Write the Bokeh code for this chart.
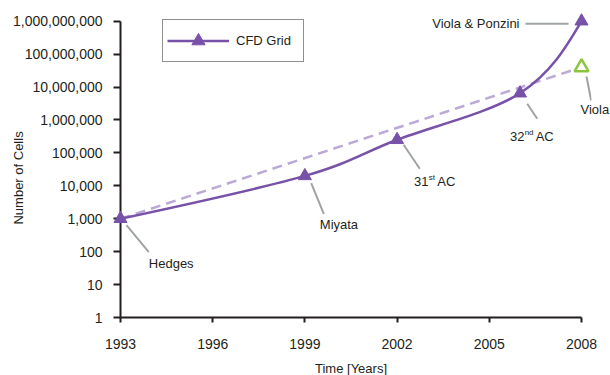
import math
from bokeh.plotting import figure
from bokeh.models import (Range1d, FixedTicker, NumeralTickFormatter,
                          Legend, LegendItem)
from bokeh.core.properties import value
from bokeh.embed import file_html
from bokeh.resources import INLINE

# ---------------- data ----------------
years = [1993, 1999, 2002, 2006, 2008]
cells = [1_000, 20_000, 250_000, 6_500_000, 1_000_000_000]
point_names = ["Hedges", "Miyata", "31st AC", "32nd AC", "Viola & Ponzini"]
viola_year = [2008]
viola_cells = [40_000_000]
viola_name = "Viola"
series_name = "CFD Grid"
x_ticks = [1993, 1996, 1999, 2002, 2005, 2008]
y_ticks = [1, 10, 100, 1_000, 10_000, 100_000, 1_000_000,
           10_000_000, 100_000_000, 1_000_000_000]
x_title = "Time [Years]"
y_title = "Number of Cells"

# ---------------- style / layout ----------------
PURPLE = "#7851a9"
LAVENDER = "#bba9d7"
GREEN = "#8cc63f"
LEADER = "#9fa3a3"
INK = "#231f20"
FONT = "Liberation Sans"

W, H = 610, 375
BL, BR, BT, BB = 120, 19, 10, 58
FW = W - BL - BR
FH = H - BT - BB
X_HI_PAD, Y_HI_PAD = 10, 10.7

px_per_year = (FW - X_HI_PAD) / (x_ticks[-1] - x_ticks[0])
x_start = x_ticks[0]
x_end = x_ticks[-1] + X_HI_PAD / px_per_year
decades = math.log10(y_ticks[-1] / y_ticks[0])
px_per_dec = (FH - Y_HI_PAD) / decades
y_start = y_ticks[0]
y_end = y_ticks[-1] * 10 ** (Y_HI_PAD / px_per_dec)

p = figure(width=W, height=H, output_backend="svg", toolbar_location=None,
           y_axis_type="log",
           x_range=Range1d(x_start, x_end), y_range=Range1d(y_start, y_end),
           min_border_left=BL, min_border_right=BR,
           min_border_top=BT, min_border_bottom=BB)
p.outline_line_color = None
p.grid.visible = False
p.background_fill_color = "white"
p.border_fill_color = "white"

# axes
xa = p.xaxis[0]
xa.ticker = FixedTicker(ticks=x_ticks)
xa.formatter = NumeralTickFormatter(format="0")
xa.bounds = (x_ticks[0], x_ticks[-1])
xa.major_tick_out = 5
xa.major_tick_in = 0
xa.minor_tick_line_color = None
xa.major_label_standoff = 16

ya = p.yaxis[0]
ya.ticker = FixedTicker(ticks=y_ticks)
ya.formatter = NumeralTickFormatter(format="0,0")
ya.bounds = (y_ticks[0], y_ticks[-1])
ya.major_tick_out = 7
ya.major_tick_in = 0
ya.minor_tick_line_color = None
ya.major_label_standoff = 11

for ax in (xa, ya):
    ax.axis_line_color = INK
    ax.axis_line_width = 2
    ax.major_tick_line_color = INK
    ax.major_tick_line_width = 2
    ax.major_label_text_font = FONT
    ax.major_label_text_font_size = "14px"
    ax.major_label_text_color = INK

# ---------------- dashed trend (Hedges -> Viola) ----------------
trend_x = [years[0], viola_year[0]]
trend_y = [cells[0], viola_cells[0]]
p.line(trend_x, trend_y, line_color=LAVENDER, line_width=2.5, line_dash="10 6")


def put_text(x, y, text, dx=0, dy=0, size=13, align="left", angle=0.0):
    """text glyph at a data point, offset by (dx right, dy down) pixels"""
    p.text(x=[x], y=[y], text=[text], x_offset=dx, y_offset=dy, angle=angle,
           text_font=value(FONT), text_font_size=value(f"{size}px"),
           text_color=INK, text_align=value(align),
           text_baseline=value("middle"), level="overlay")


# ---------------- leaders & labels ----------------
def shift(x, y, dx, dy):
    """pixel offset (dx right, dy down) from a data point -> data coords"""
    return x + dx / px_per_year, y * 10 ** (-dy / px_per_dec)

leader_px = {
    "Hedges": ((6, 6.5), (28.3, 33.5)),
    "Miyata": ((6.3, 7.3), (18.9, 37.9)),
    "31st AC": ((6.5, 5), (22.7, 29)),
    "32nd AC": ((7.2, 10.6), (17.2, 25.6)),
    "Viola & Ponzini": ((-56, 2.6), (-13, 2.6)),
    "Viola": ((5, 9.3), (9.7, 33.3)),
}
# (text, dx, dy, font size, align)
label_px = {
    "Hedges": [("Hedges", 28.3, 44.3, 13, "left")],
    "Miyata": [("Miyata", 14.9, 48.6, 13, "left")],
    "31st AC": [("31", 16.8, 41.5, 13, "left"), ("st", 31.6, 38.0, 8, "left"),
                ("AC", 40.2, 41.5, 13, "left")],
    "32nd AC": [("32", -10, 43.1, 13, "left"), ("nd", 4.6, 39.6, 8, "left"),
                ("AC", 15.6, 43.1, 13, "left")],
    "Viola & Ponzini": [("Viola & Ponzini", -62, 2.6, 13, "right")],
    "Viola": [("Viola", -1, 42.5, 13, "left")],
}

all_pts = list(zip(point_names, years, cells)) + [(viola_name, viola_year[0], viola_cells[0])]
lx0, ly0, lx1, ly1 = [], [], [], []
for name, x, y in all_pts:
    (a, b), (c, d) = leader_px[name]
    sx0, sy0 = shift(x, y, a, b)
    sx1, sy1 = shift(x, y, c, d)
    lx0.append(sx0); ly0.append(sy0); lx1.append(sx1); ly1.append(sy1)
    for text, dx, dy, fs, align in label_px[name]:
        put_text(x, y, text, dx, dy, fs, align)
p.segment(x0=lx0, y0=ly0, x1=lx1, y1=ly1, line_color=LEADER, line_width=2)

# ---------------- smooth CFD grid curve ----------------
lxs = years
lys = [math.log10(c) for c in cells]
n = len(lxs)
T = [None] * n
for i in range(1, n - 1):
    T[i] = ((lxs[i + 1] - lxs[i - 1]) / 2, (lys[i + 1] - lys[i - 1]) / 2)
T[0] = ((3 * (lxs[1] - lxs[0]) - T[1][0]) / 2, (3 * (lys[1] - lys[0]) - T[1][1]) / 2)
T[-1] = ((3 * (lxs[-1] - lxs[-2]) - T[-2][0]) / 2, (3 * (lys[-1] - lys[-2]) - T[-2][1]) / 2)
bx0, by0, bx1, by1, cx0, cy0, cx1, cy1 = ([] for _ in range(8))
for i in range(n - 1):
    bx0.append(lxs[i]); by0.append(cells[i])
    bx1.append(lxs[i + 1]); by1.append(cells[i + 1])
    cx0.append(lxs[i] + T[i][0] / 3); cy0.append(10 ** (lys[i] + T[i][1] / 3))
    cx1.append(lxs[i + 1] - T[i + 1][0] / 3); cy1.append(10 ** (lys[i + 1] - T[i + 1][1] / 3))
curve = p.bezier(x0=bx0, y0=by0, x1=bx1, y1=by1, cx0=cx0, cy0=cy0, cx1=cx1, cy1=cy1,
                 line_color=PURPLE, line_width=2.5)

pts = p.scatter(years, cells, marker="triangle", size=13,
                fill_color=PURPLE, line_color=PURPLE, level="overlay")
p.scatter(viola_year, viola_cells, marker="triangle", size=14,
          fill_color="white", line_color=GREEN, line_width=2.5, level="overlay")

# axis titles (centred on the axis extents)
put_text(x_ticks[0], math.sqrt(y_ticks[0] * y_ticks[-1]), y_title,
         dx=-102.5, dy=8.6, size=13, align="center", angle=math.pi / 2)
put_text((x_ticks[0] + x_ticks[-1]) / 2, y_ticks[0], x_title,
         dx=0, dy=50.5, size=13, align="center")

# legend
legend = Legend(items=[LegendItem(label=series_name, renderers=[curve, pts])],
                location=(42, 255), margin=0, padding=4, spacing=0,
                glyph_width=62, glyph_height=33, label_standoff=7, label_width=63,
                label_text_font=FONT, label_text_font_size="13px",
                label_text_color=INK, border_line_color=INK, border_line_width=1,
                background_fill_color="white", background_fill_alpha=1)
p.add_layout(legend)

open("out.html", "w").write(file_html(p, INLINE))
